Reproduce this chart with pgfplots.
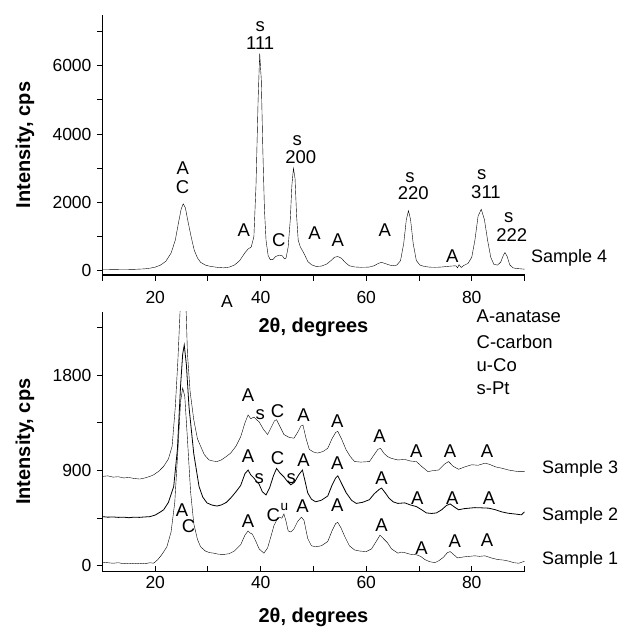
\documentclass[border=0pt]{standalone}
\usepackage{pgfplots}
\pgfplotsset{compat=1.18}
\usepackage{fontspec}
\setmainfont{Liberation Sans}
\newcommand{\fs}[1]{\fontsize{#1}{#1}\selectfont}
\pgfplotsset{
  myax/.style={
    scale only axis, width=422pt, height=260pt,
    xmin=10, xmax=90,
    axis x line=bottom, axis y line=left,
    axis line style={-, line width=1.1pt},
    tick align=outside,
    xtick={20,40,60,80}, minor xtick={10,30,50,70,90},
    major tick length=5.5pt, minor tick length=5.5pt,
    every tick/.style={black, line width=1pt},
    minor tick style={black, line width=1pt},
    ticklabel style={font=\fs{17.5}},
    yticklabel style={xshift=-2pt},
    /pgf/number format/assume math mode=true,
    /pgf/number format/set thousands separator={},
    clip=true, clip mode=individual,
    cycle list={{black, line width=0.8pt, no markers}},
    every axis y label/.style={at={(axis description cs:-0.184,0.5)}, rotate=90, anchor=center, font=\bfseries\fs{20}},
  }
}
\begin{document}
\begin{tikzpicture}
\useasboundingbox (0pt,0pt) rectangle (619pt,-627pt);
% ---------------- top panel ----------------
\begin{axis}[myax, at={(102.5pt,-275pt)}, anchor=south west,
  ymin=-120, ymax=7480,
  ytick={0,2000,4000,6000}, minor ytick={1000,3000,5000,7000},
  xticklabel style={yshift=-7.5pt},
  ylabel={Intensity, cps},
  xlabel={2θ, degrees},
  every axis x label/.style={at={(axis description cs:0.5,-0.2)}, anchor=center, font=\bfseries\fs{20}},
]
\addplot coordinates {(10,50)(12,45)(14,40)(16,45)(18,60)(19,80)(20,110)(21,170)(22,280)(23,520)(23.8,900)(24.4,1400)(24.9,1800)(25.3,1960)(25.7,1850)(26.2,1450)(26.8,1000)(27.4,600)(28,380)(28.6,250)(29.5,170)(30.5,130)(32,100)(33,90)(34,110)(35,170)(36,300)(37,530)(37.6,640)(38.2,700)(38.7,1000)(39.1,2500)(39.5,5000)(39.8,6350)(40.1,5600)(40.4,3500)(40.7,1800)(41,900)(41.4,450)(41.8,330)(42.3,330)(42.8,420)(43.5,460)(44.1,440)(44.5,350)(44.8,380)(45.2,700)(45.6,1500)(45.9,2500)(46.2,3000)(46.5,2700)(46.8,1600)(47.1,900)(47.5,700)(47.8,620)(48.3,480)(48.9,280)(49.6,180)(50.5,130)(51.5,140)(52.5,200)(53.3,300)(54,400)(54.6,420)(55.3,370)(56,250)(56.8,150)(57.8,115)(59,105)(60.5,110)(61.5,150)(62.3,220)(62.9,250)(63.5,220)(64.2,180)(65,150)(65.8,170)(66.5,300)(67.1,800)(67.6,1500)(68,1760)(68.4,1500)(68.9,800)(69.5,300)(70.2,170)(71,130)(72,110)(73,105)(74,110)(75,125)(76,140)(77,150)(77.3,90)(77.6,180)(78,100)(78.5,160)(79.3,220)(80,400)(80.6,900)(81.2,1600)(81.8,1800)(82.4,1500)(83,900)(83.6,400)(84.2,190)(84.9,170)(85.5,260)(86,460)(86.3,535)(86.7,430)(87.2,180)(87.8,90)(88.5,70)(89.3,60)(90,50)};
\begin{scope}[font=\fs{18.5}, every node/.style={inner sep=0.5pt}]
\node at (axis cs:25.2,3000) {A};
\node at (axis cs:25.2,2460) {C};
\node at (axis cs:36.8,1200) {A};
\node at (axis cs:39.9,7150) {s};
\node at (axis cs:39.9,6650) {111};
\node at (axis cs:43.4,905) {C};
\node at (axis cs:46.9,3800) {s};
\node at (axis cs:47.6,3340) {200};
\node at (axis cs:50.2,1100) {A};
\node at (axis cs:54.6,905) {A};
\node at (axis cs:63.5,1200) {A};
\node at (axis cs:68.3,2730) {s};
\node at (axis cs:68.9,2270) {220};
\node at (axis cs:76.3,420) {A};
\node at (axis cs:81.9,2800) {s};
\node at (axis cs:82.7,2315) {311};
\node at (axis cs:87.0,1550) {s};
\node at (axis cs:87.6,1050) {222};
\node[font=\fs{17.5}] at (axis cs:33.6,-905) {A};
\node[anchor=west, inner sep=0pt, font=\fs{18}] at (axis cs:91.2,370) {Sample 4};
\end{scope}
\end{axis}
% ---------------- bottom panel ----------------
\begin{axis}[myax, at={(102.5pt,-571.7pt)}, anchor=south west,
  ymin=-55, ymax=2400,
  xtick align=inside,
  xticklabel style={yshift=-1pt},
  ytick={0,900,1800}, minor ytick={450,1350,2250},
  ylabel={Intensity, cps},
  xlabel={2θ, degrees},
  every axis x label/.style={at={(axis description cs:0.5,-0.174)}, anchor=center, font=\bfseries\fs{20}},
]
% Sample 1
\addplot coordinates {(10,35)(11,30)(12,25)(13,30)(14,20)(15,25)(16,20)(17,25)(18,20)(19,30)(19.7,25)(20.5,60)(21.3,110)(22.2,180)(23,320)(23.7,600)(24.3,1100)(24.8,1550)(25.2,1680)(25.6,1600)(26.1,1200)(26.7,700)(27.3,400)(28,250)(28.6,180)(29.5,140)(30.3,125)(31.1,120)(32,110)(33,108)(34,115)(35,140)(36.2,200)(37,290)(37.6,330)(38,310)(38.4,300)(39,240)(39.7,160)(40.6,120)(41.3,170)(42,290)(42.5,380)(43,430)(43.5,460)(44,450)(44.4,490)(44.8,420)(45.2,330)(45.7,320)(46.3,350)(47,420)(47.7,460)(48.2,430)(48.9,260)(49.6,190)(50.4,180)(51.5,190)(52.7,230)(53.5,330)(54.2,400)(54.6,410)(55.2,360)(55.9,280)(56.8,190)(57.8,150)(58.8,140)(60,135)(61,160)(62,240)(62.6,290)(63.2,260)(64,220)(64.8,160)(66,120)(66.6,130)(67.3,125)(68.3,110)(69.5,105)(70.3,90)(71.1,60)(72,40)(73,30)(73.8,50)(74.6,80)(75.4,125)(75.9,135)(76.5,110)(77.3,75)(78.5,85)(79.5,90)(80.6,95)(81.5,90)(82.5,95)(83.7,75)(84.9,60)(86,55)(87,45)(88,30)(88.9,25)(89.5,35)(90,45)};
% Sample 2
\addplot coordinates {(10,465)(11,460)(12,462)(13,458)(14,460)(15,455)(16,460)(17,458)(18,462)(19,465)(20,480)(21,510)(21.6,530)(22.5,600)(23.5,750)(24.2,1100)(24.8,1700)(25.2,2000)(25.5,2085)(25.9,1900)(26.4,1500)(27.3,1060)(28.3,750)(29,650)(29.8,595)(30.7,575)(31.7,565)(32.5,575)(33.5,600)(34.3,640)(35.3,700)(36.2,760)(37,870)(37.6,905)(38.1,860)(38.7,830)(39.3,790)(39.7,770)(40.3,700)(41,670)(41.7,740)(42.4,850)(43,920)(43.6,880)(44.4,840)(45,800)(45.7,765)(46.4,790)(47.2,860)(47.9,905)(48.4,800)(48.9,690)(49.6,630)(50.4,605)(51.5,620)(52.7,660)(53.5,760)(54.2,830)(54.6,850)(55.3,780)(56.2,690)(57.2,620)(58.1,590)(59.3,600)(60.6,625)(61.5,680)(62.4,720)(62.9,735)(63.6,690)(64.3,640)(65.1,605)(66,590)(67.3,595)(68.4,575)(69.5,560)(70.5,530)(71.4,500)(72.4,495)(73.3,500)(74.3,530)(75.2,570)(75.9,585)(76.6,560)(77.5,530)(78.5,540)(79.5,545)(80.6,550)(81.8,548)(83.2,545)(84.5,530)(85.7,510)(86.9,497)(88.2,490)(89.4,482)(90,510)};
% Sample 3
\addplot coordinates {(10,845)(11,850)(12,838)(13,842)(14,830)(15,835)(16,825)(17.1,820)(18,830)(19,845)(19.7,860)(20.7,895)(21.6,940)(22.5,1010)(23.2,1130)(23.8,1500)(24.3,1950)(24.7,2400)(25.3,2650)(25.8,2500)(26.1,2010)(26.6,1650)(27.3,1380)(28,1200)(28.6,1130)(29.3,1050)(30.2,1000)(31,990)(31.7,985)(32.5,1000)(33.4,1030)(34.3,1065)(35.3,1130)(36.2,1220)(37,1350)(37.6,1425)(38.1,1390)(38.7,1405)(39.2,1380)(39.7,1360)(40.5,1290)(41.3,1240)(42,1310)(42.6,1370)(43,1380)(43.6,1320)(44.4,1240)(45.3,1215)(46.3,1205)(47.1,1270)(47.6,1320)(48,1330)(48.6,1200)(49.2,1100)(50,1075)(50.8,1065)(51.8,1080)(52.7,1110)(53.5,1200)(54.2,1260)(54.6,1270)(55.3,1200)(56.2,1095)(57,1030)(57.8,985)(59,980)(60.6,985)(61.5,1050)(62.2,1100)(62.7,1110)(63.4,1060)(64.1,1030)(64.8,1015)(66,1000)(67.3,1005)(68.4,990)(69.5,985)(70.6,935)(71.7,890)(72.7,900)(73.7,905)(74.8,960)(75.6,985)(76.5,940)(77.5,912)(78.7,935)(80,955)(81.2,950)(82.5,970)(83.3,960)(84.5,935)(85.7,922)(87,905)(88.2,895)(88.9,890)(90,890)};
\begin{scope}[font=\fs{18.5}, every node/.style={inner sep=0.5pt}]
% sample 1 labels
\node at (axis cs:25.1,529) {A};
\node at (axis cs:26.3,371) {C};
\node at (axis cs:37.6,419) {A};
\node at (axis cs:42.4,482) {C};
\node[font=\fs{13.5}] at (axis cs:44.5,560) {u};
\node at (axis cs:47.9,560) {A};
\node at (axis cs:54.5,576) {A};
\node at (axis cs:62.9,387) {A};
\node at (axis cs:70.5,167) {A};
\node at (axis cs:76.8,230) {A};
\node at (axis cs:82.9,245) {A};
% sample 2 labels
\node at (axis cs:37.6,1032) {A};
\node at (axis cs:39.7,828) {s};
\node at (axis cs:43.2,1017) {C};
\node at (axis cs:45.8,828) {s};
\node at (axis cs:48.1,1001) {A};
\node at (axis cs:54.5,970) {A};
\node at (axis cs:62.9,828) {A};
\node at (axis cs:69.7,639) {A};
\node at (axis cs:76.3,639) {A};
\node at (axis cs:83.3,639) {A};
% sample 3 labels
\node at (axis cs:37.6,1615) {A};
\node at (axis cs:39.9,1426) {s};
\node at (axis cs:43.2,1457) {C};
\node at (axis cs:48.1,1426) {A};
\node at (axis cs:54.5,1363) {A};
\node at (axis cs:62.5,1221) {A};
\node at (axis cs:69.5,1080) {A};
\node at (axis cs:75.9,1080) {A};
\node at (axis cs:82.9,1080) {A};
% legend text
\node[anchor=west, inner sep=0pt] at (axis cs:80.9,2354) {A-anatase};
\node[anchor=west, inner sep=0pt] at (axis cs:80.9,2118) {C-carbon};
\node[anchor=west, inner sep=0pt] at (axis cs:80.9,1898) {u-Co};
\node[anchor=west, inner sep=0pt] at (axis cs:80.9,1678) {s-Pt};
% sample names
\node[anchor=west, inner sep=0pt, font=\fs{18}] at (axis cs:93.3,913) {Sample 3};
\node[anchor=west, inner sep=0pt, font=\fs{18}] at (axis cs:93.3,472) {Sample 2};
\node[anchor=west, inner sep=0pt, font=\fs{18}] at (axis cs:93.3,57) {Sample 1};
\end{scope}
\end{axis}
\end{tikzpicture}
\end{document}
